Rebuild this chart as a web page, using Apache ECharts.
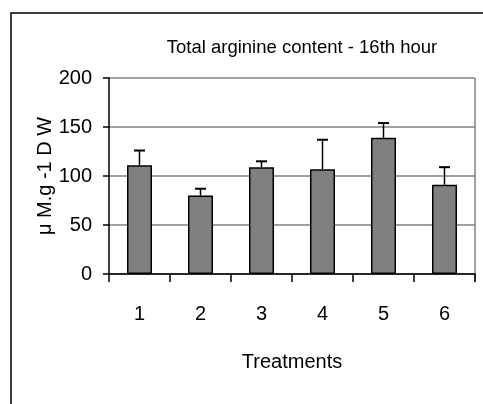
<!DOCTYPE html>
<html><head><meta charset="utf-8">
<script src="https://cdn.jsdelivr.net/npm/echarts@6/dist/echarts.min.js"></script>
<style>html,body{margin:0;padding:0;background:#fff}#c{width:483px;height:404px}</style>
</head><body><div id="c"></div>
<script>
const categories = ['1','2','3','4','5','6'];
const values = [111, 80, 109, 107, 139, 91];
const errorTop = [126, 87, 115, 137, 154, 109];
const yTicks = [0, 50, 100, 150, 200];

const FONT = '"Liberation Sans Narrow", "Arial Narrow", "Liberation Sans", Arial, sans-serif';
const chart = echarts.init(document.getElementById('c'), null, {renderer:'canvas'});
chart.setOption({
  animation:false,
  backgroundColor:'#fff',
  title:{text:'Total arginine content - 16th hour', left:297, textAlign:'center', top:33,
    textStyle:{fontFamily:FONT, fontSize:18.5, fontWeight:'normal', color:'#000'}},
  graphic:[
    {type:'rect', shape:{x:11, y:13, width:500, height:420}, style:{fill:'none', stroke:'#000', lineWidth:1.5}, silent:true, z:-1},
    {type:'line', shape:{x1:475, y1:78, x2:475, y2:282}, style:{stroke:'#808080', lineWidth:1.5}, silent:true}
  ],
  grid:{left:109, right:8, top:78, bottom:130, containLabel:false},
  xAxis:{type:'category', data:categories,
    name:'Treatments', nameLocation:'middle', nameGap:78, nameMoveOverlap:false,
    nameTextStyle:{fontFamily:FONT, fontSize:20, color:'#000'},
    axisLine:{lineStyle:{color:'#000', width:1.5}},
    axisTick:{show:true, alignWithLabel:false, length:8, lineStyle:{color:'#000', width:1.5}},
    axisLabel:{margin:30, fontFamily:FONT, fontSize:20, color:'#000'}},
  yAxis:{type:'value', min:0, max:200, interval:50,
    name:'μ M.g -1 D W', nameLocation:'middle', nameGap:54, nameRotate:90, nameMoveOverlap:false,
    nameTextStyle:{fontFamily:FONT, fontSize:20, color:'#000'},
    axisLine:{show:true, lineStyle:{color:'#000', width:1.5}},
    axisTick:{show:true, length:6, lineStyle:{color:'#000', width:1.5}},
    axisLabel:{margin:17, fontFamily:FONT, fontSize:20, color:'#000',
      formatter:v=>yTicks.includes(v)?String(v):''},
    splitLine:{show:true, lineStyle:{color:'#808080', width:1.5}}},
  series:[
    {type:'bar', data:values, barWidth:'41%',
      itemStyle:{color:'#808080', borderColor:'#000', borderWidth:1.5}, z:2},
    {type:'custom', z:3,
      data: values.map((v,i)=>[i, v, errorTop[i]]),
      renderItem:(params, api)=>{
        const x = api.value(0);
        const p0 = api.coord([x, api.value(1)]);
        const p1 = api.coord([x, api.value(2)]);
        const hw = 5.5;
        return {type:'group', children:[
          {type:'line', shape:{x1:p0[0], y1:p0[1], x2:p1[0], y2:p1[1]}, style:{stroke:'#000', lineWidth:1.5}},
          {type:'line', shape:{x1:p1[0]-hw, y1:p1[1], x2:p1[0]+hw, y2:p1[1]}, style:{stroke:'#000', lineWidth:2}}
        ]};
      }}
  ]
});
</script></body></html>
